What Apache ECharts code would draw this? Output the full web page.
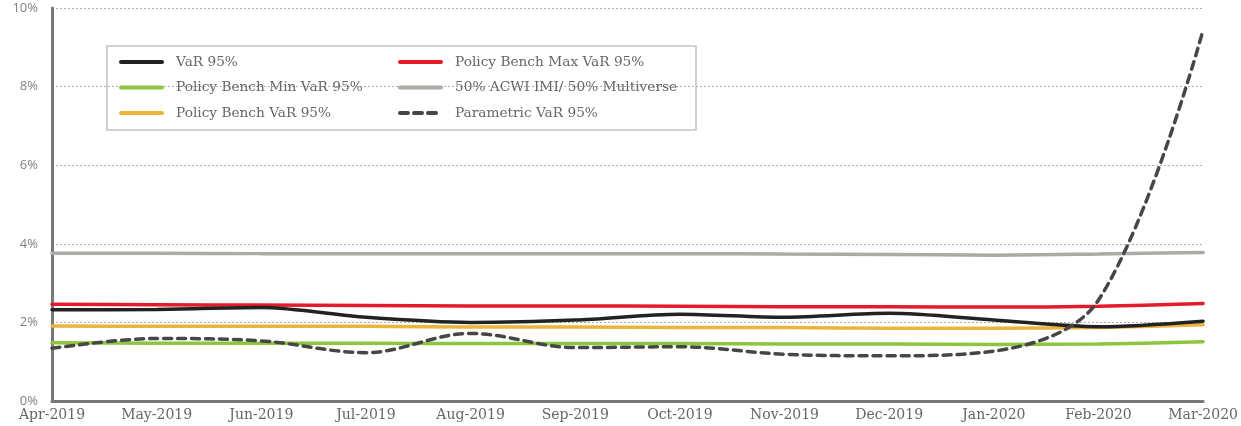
<!DOCTYPE html>
<html><head><meta charset="utf-8">
<script src="https://cdn.jsdelivr.net/npm/echarts@6/dist/echarts.min.js"></script>
<style>html,body{margin:0;padding:0;background:#fff}#c{width:1241px;height:426px}</style>
</head><body><div id="c"></div>
<script>
const categories = ['Apr-2019','May-2019','Jun-2019','Jul-2019','Aug-2019','Sep-2019','Oct-2019','Nov-2019','Dec-2019','Jan-2020','Feb-2020','Mar-2020'];
const var95 = [2.32,2.33,2.38,2.13,2.00,2.06,2.21,2.13,2.23,2.06,1.89,2.03];
const benchMin = [1.48,1.47,1.47,1.47,1.46,1.46,1.46,1.45,1.45,1.44,1.45,1.51];
const benchVar = [1.91,1.90,1.90,1.90,1.88,1.88,1.87,1.87,1.85,1.85,1.87,1.94];
const benchMax = [2.46,2.45,2.44,2.43,2.42,2.42,2.41,2.40,2.40,2.39,2.41,2.48];
const acwi = [3.76,3.76,3.75,3.75,3.75,3.75,3.75,3.74,3.73,3.71,3.74,3.78];
const paramVar = [1.34,1.59,1.53,1.23,1.72,1.36,1.38,1.19,1.15,1.27,2.57,9.44];
const legendCol1 = ['VaR 95%','Policy Bench Min VaR 95%','Policy Bench VaR 95%'];
const legendCol2 = ['Policy Bench Max VaR 95%','50% ACWI IMI/ 50% Multiverse','Parametric VaR 95%'];

const serif = '"DejaVu Serif", serif';
function s(name, data, color, dashed, smooth) {
  return {name, type:'line', data, symbol:'none', smooth: smooth,
    lineStyle:{color, width:3.5, type: dashed ? [8,6] : 'solid', cap:'round'},
    itemStyle:{color}};
}
function leg(left, data) {
  return {orient:'vertical', left, top:55, padding:0, itemGap:11.5, itemWidth:41, itemHeight:12,
    itemStyle:{color:'transparent', borderWidth:0, opacity:0},
    lineStyle:{width:4, cap:'round'},
    textStyle:{fontFamily:serif, fontSize:13.7, color:'#666', padding:[0,0,0,9]},
    data};
}
const chart = echarts.init(document.getElementById('c'));
chart.setOption({
  animation:false,
  grid:{left:52, right:36, top:8, bottom:25},
  graphic:[{type:'rect', left:106, top:45, z:-1,
    shape:{width:589, height:84}, style:{fill:'#fff', stroke:'#d2d2cc', lineWidth:2}}],
  legend:[leg(119, legendCol1), leg(398, legendCol2)],
  xAxis:{type:'category', data:categories, boundaryGap:false,
    axisLine:{lineStyle:{color:'#777', width:3}}, axisTick:{show:false},
    axisLabel:{fontFamily:serif, fontSize:14, color:'#666', margin:7, interval:0}},
  yAxis:{type:'value', min:0, max:10, interval:2,
    axisLine:{show:true, lineStyle:{color:'#777', width:3}}, axisTick:{show:false},
    axisLabel:{formatter:v=>v+'%', fontFamily:'"Open Sans", sans-serif', fontSize:13, color:'#808080', margin:14},
    splitLine:{lineStyle:{color:'#aab0a8', type:[2,2], width:1}}},
  series:[
    s('50% ACWI IMI/ 50% Multiverse', acwi, '#aaaba4', false, 0.3),
    s('Policy Bench Min VaR 95%', benchMin, '#8cc63f', false, 0.3),
    s('Policy Bench VaR 95%', benchVar, '#e9b53c', false, 0.3),
    s('Policy Bench Max VaR 95%', benchMax, '#e31b2a', false, 0.3),
    s('VaR 95%', var95, '#222222', false, 0.3),
    s('Parametric VaR 95%', paramVar, '#464646', true, 0.35)
  ]
});
</script></body></html>
